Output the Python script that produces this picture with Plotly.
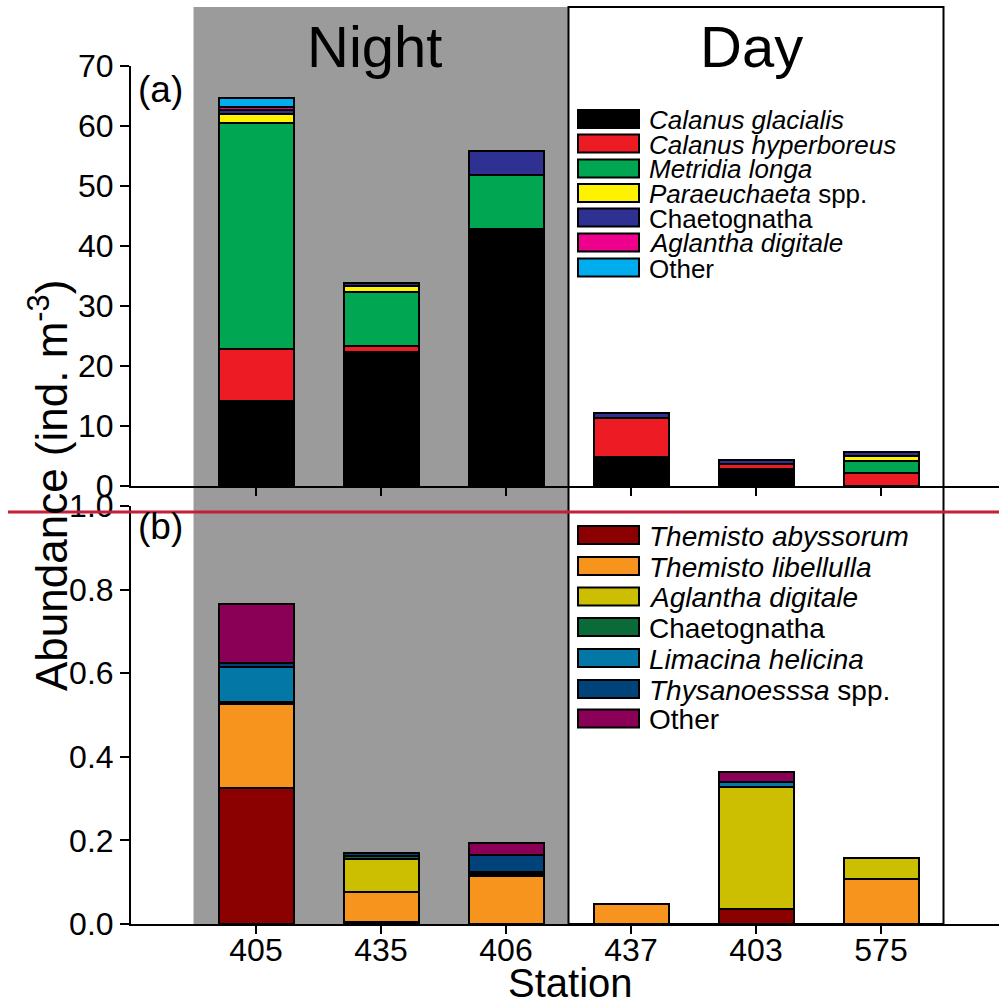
import plotly.graph_objects as go

# ---------------- data ----------------
stations = ["405", "435", "406", "437", "403", "575"]

# panel (a) abundance (ind. m-3)
top_names = ["<i>Calanus glacialis</i>", "<i>Calanus hyperboreus</i>", "<i>Metridia longa</i>",
             "<i>Paraeuchaeta</i> spp.", "Chaetognatha", "<i>Aglantha digitale</i>", "Other"]
calanus_glacialis = [14.2, 22.4, 42.9, 4.8, 2.8, 0.0]
calanus_hyperboreus = [8.6, 1.0, 0.0, 6.6, 0.9, 2.1]
metridia_longa = [37.7, 8.9, 9.0, 0.0, 0.0, 2.0]
paraeuchaeta = [1.5, 1.1, 0.0, 0.0, 0.0, 0.85]
chaetognatha_a = [0.6, 0.5, 4.0, 0.8, 0.6, 0.8]
aglantha_a = [0.5, 0.0, 0.0, 0.0, 0.0, 0.0]
other_a = [1.6, 0.0, 0.0, 0.0, 0.0, 0.0]
top_series = [calanus_glacialis, calanus_hyperboreus, metridia_longa, paraeuchaeta,
              chaetognatha_a, aglantha_a, other_a]
top_colors = ["#000000", "#ED1C24", "#00A651", "#FFF200", "#2E3192", "#EC008C", "#00AEEF"]

# panel (b) abundance (ind. m-3)
bot_names = ["<i>Themisto abyssorum</i>", "<i>Themisto libellulla</i>", "<i>Aglantha digitale</i>",
             "Chaetognatha", "<i>Limacina helicina</i>", "<i>Thysanoesssa</i> spp.", "Other"]
themisto_abyssorum = [0.325, 0.005, 0.0, 0.0, 0.036, 0.0]
themisto_libellula = [0.201, 0.072, 0.115, 0.048, 0.0, 0.107]
aglantha_b = [0.0, 0.078, 0.0, 0.0, 0.292, 0.050]
chaetognatha_b = [0.006, 0.008, 0.004, 0.0, 0.0, 0.0]
limacina = [0.084, 0.0, 0.006, 0.0, 0.012, 0.0]
thysanoessa = [0.008, 0.008, 0.040, 0.0, 0.0, 0.0]
other_b = [0.141, 0.0, 0.028, 0.0, 0.024, 0.0]
bot_series = [themisto_abyssorum, themisto_libellula, aglantha_b, chaetognatha_b,
              limacina, thysanoessa, other_b]
bot_colors = ["#8B0000", "#F7941E", "#CCBE00", "#0B6B38", "#0378A6", "#00427A", "#8A0057"]

top_ticks = [0, 10, 20, 30, 40, 50, 60, 70]
bot_ticks = [0.0, 0.2, 0.4, 0.6, 0.8, 1.0]

# ---------------- layout helpers ----------------
W, H = 999, 1005
L, R, T, B = 131, 0, 0, 81
PW, PH = W - L - R, H - T - B


def px(x):
    return (x - L) / PW


def py(y):
    return (H - B - y) / PH


FONT = "Liberation Sans, Arial, Helvetica, sans-serif"

fig = go.Figure()
for name, vals, col in zip(top_names, top_series, top_colors):
    fig.add_trace(go.Bar(x=stations, y=vals, name=name, marker=dict(color=col, line=dict(color="black", width=2)),
                         xaxis="x", yaxis="y", showlegend=False, hoverinfo="skip"))
for name, vals, col in zip(bot_names, bot_series, bot_colors):
    fig.add_trace(go.Bar(x=stations, y=vals, name=name, marker=dict(color=col, line=dict(color="black", width=2)),
                         xaxis="x2", yaxis="y2", showlegend=False, hoverinfo="skip"))

axis_common = dict(showline=True, linecolor="black", linewidth=2, ticks="outside", tickcolor="black",
                   tickwidth=2, showgrid=False, zeroline=False, automargin=False,
                   tickfont=dict(size=32, color="black", family=FONT))
xr = [-1.0, 5.944]
fig.update_layout(
    width=W, height=H,
    margin=dict(l=L, r=R, t=T, b=B, pad=0, autoexpand=False),
    paper_bgcolor="white", plot_bgcolor="rgba(0,0,0,0)",
    barmode="stack", bargap=0.4,
    showlegend=False,
    font=dict(family=FONT, color="black"),
    xaxis=dict(domain=[0, 1], anchor="y", type="category", range=xr, showticklabels=False, ticklen=8,
               **axis_common),
    yaxis=dict(domain=[py(486), py(66)], anchor="x", range=[0, 70], tickvals=top_ticks, ticklen=9,
               **axis_common),
    xaxis2=dict(domain=[0, 1], anchor="y2", type="category", range=xr, ticklen=8,
                ticklabelstandoff=-11, **axis_common),
    yaxis2=dict(domain=[0, py(506)], anchor="x2", range=[0, 1.0], tickvals=bot_ticks, tickformat=".1f",
                ticklen=9, **axis_common),
)

shapes = []
# night shading and day frame
shapes.append(dict(type="rect", xref="x", yref="paper", x0=-0.5, x1=2.5, y0=0, y1=py(7),
                   fillcolor="#9B9B9B", line=dict(width=0), layer="below"))
shapes.append(dict(type="rect", xref="x", yref="paper", x0=2.5, x1=5.5, y0=0, y1=py(7),
                   fillcolor="rgba(0,0,0,0)", line=dict(color="black", width=2), layer="above"))
# crimson line across
shapes.append(dict(type="line", xref="paper", yref="paper", x0=px(8), x1=1.0, y0=py(512), y1=py(512),
                   line=dict(color="#C41E3A", width=3), layer="above"))

annotations = []


def add_legend(names, colors, rows, fsize, sw_h):
    for name, col, yc in zip(names, colors, rows):
        shapes.append(dict(type="rect", xref="paper", yref="paper", x0=px(578), x1=px(639),
                           y0=py(yc + sw_h / 2), y1=py(yc - sw_h / 2), fillcolor=col,
                           line=dict(color="black", width=2), layer="above"))
        annotations.append(dict(xref="paper", yref="paper", x=px(647), y=py(yc + 1), text=name,
                                showarrow=False, xanchor="left", yanchor="middle",
                                font=dict(size=fsize, color="black", family=FONT)))


add_legend(top_names, top_colors, [119, 143.5, 168.5, 193, 217.5, 242.5, 267.5], 26, 18)
add_legend(bot_names, bot_colors, [535, 566, 596.5, 627, 658, 689, 718.5], 28, 18)

annotations += [
    dict(xref="x", yref="paper", x=0.95, y=py(46), text="Night", showarrow=False, xanchor="center",
         yanchor="middle", font=dict(size=58)),
    dict(xref="x", yref="paper", x=3.96, y=py(46), text="Day", showarrow=False, xanchor="center",
         yanchor="middle", font=dict(size=58)),
    dict(xref="paper", yref="paper", x=px(136), y=py(89), text="(a)", showarrow=False, xanchor="left",
         yanchor="middle", font=dict(size=37)),
    dict(xref="paper", yref="paper", x=px(136), y=py(526), text="(b)", showarrow=False, xanchor="left",
         yanchor="middle", font=dict(size=37)),
    dict(xref="paper", yref="paper", x=px(570), y=py(983), text="Station", showarrow=False,
         xanchor="center", yanchor="middle", font=dict(size=40)),
    dict(xref="paper", yref="paper", x=px(48), y=py(486), text="Abundance (ind. m<sup>-3</sup>)",
         showarrow=False, xanchor="center", yanchor="middle", textangle=-90, font=dict(size=44)),
]

fig.update_layout(shapes=shapes, annotations=annotations)
fig.write_html("out.html", config={"displayModeBar": False},
               post_script="document.body.style.margin='0px';")
